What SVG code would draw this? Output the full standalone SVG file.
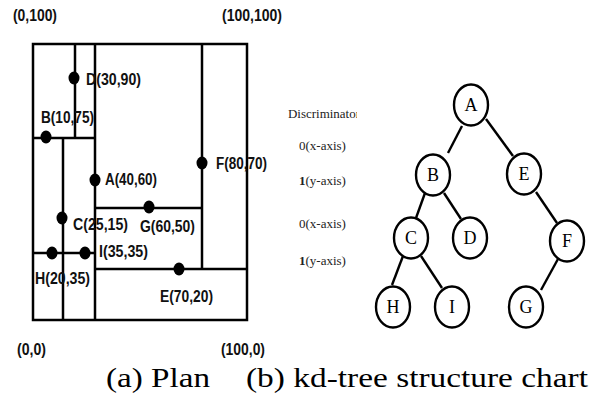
<svg xmlns="http://www.w3.org/2000/svg" width="590" height="396" viewBox="0 0 590 396">
<style>
.pl{stroke:#000;stroke-width:2.5;fill:none}
.dot{fill:#000}
.lab{font-family:"Liberation Sans Narrow","Liberation Sans",Arial,sans-serif;font-weight:bold;font-size:16px;fill:#111}
.disc{font-family:"Liberation Serif","Times New Roman",serif;font-size:13px;fill:#222}
.cap{font-family:"Liberation Serif","Times New Roman",serif;font-size:27px;fill:#000}
.node ellipse{fill:#fff;stroke:#000;stroke-width:2.4}
.node text{font-family:"Liberation Serif","Times New Roman",serif;font-size:18px;text-anchor:middle;fill:#000}
.edge{stroke:#000;stroke-width:2.4;fill:none}
</style>
<defs>
<clipPath id="dclip"><rect x="280" y="95" width="77" height="30"/></clipPath>
</defs>
<rect width="590" height="396" fill="#fff"/>
<g id="plan">
<rect class="pl" x="33" y="44" width="214" height="276"/>
<line class="pl" x1="95" y1="44" x2="95" y2="320"/>
<line class="pl" x1="75" y1="44" x2="75" y2="138"/>
<line class="pl" x1="33" y1="138" x2="95" y2="138"/>
<line class="pl" x1="63" y1="138" x2="63" y2="320"/>
<line class="pl" x1="33" y1="253" x2="95" y2="253"/>
<line class="pl" x1="202" y1="44" x2="202" y2="269"/>
<line class="pl" x1="95" y1="208" x2="202" y2="208"/>
<line class="pl" x1="95" y1="269" x2="247" y2="269"/>
<ellipse class="dot" cx="74" cy="78" rx="5.5" ry="6.5"/>
<ellipse class="dot" cx="46" cy="137" rx="5.5" ry="6.5"/>
<ellipse class="dot" cx="95" cy="180" rx="5.5" ry="6.5"/>
<ellipse class="dot" cx="202" cy="163" rx="5.5" ry="6.5"/>
<ellipse class="dot" cx="62" cy="218" rx="5.5" ry="6.5"/>
<ellipse class="dot" cx="149" cy="207" rx="5.5" ry="6.5"/>
<ellipse class="dot" cx="52" cy="253" rx="5.5" ry="6.5"/>
<ellipse class="dot" cx="85" cy="253" rx="5.5" ry="6.5"/>
<ellipse class="dot" cx="179" cy="269" rx="5.5" ry="6.5"/>
<text class="lab" x="13" y="21" textLength="44" lengthAdjust="spacingAndGlyphs">(0,100)</text>
<text class="lab" x="222" y="21" textLength="60" lengthAdjust="spacingAndGlyphs">(100,100)</text>
<text class="lab" x="86" y="85" textLength="55" lengthAdjust="spacingAndGlyphs">D(30,90)</text>
<text class="lab" x="41" y="123" textLength="53" lengthAdjust="spacingAndGlyphs">B(10,75)</text>
<text class="lab" x="216" y="169" textLength="51" lengthAdjust="spacingAndGlyphs">F(80,70)</text>
<text class="lab" x="105" y="185" textLength="52" lengthAdjust="spacingAndGlyphs">A(40,60)</text>
<text class="lab" x="73" y="230" textLength="55" lengthAdjust="spacingAndGlyphs">C(25,15)</text>
<text class="lab" x="140" y="232" textLength="55" lengthAdjust="spacingAndGlyphs">G(60,50)</text>
<text class="lab" x="99" y="257" textLength="49" lengthAdjust="spacingAndGlyphs">I(35,35)</text>
<text class="lab" x="35" y="284" textLength="55" lengthAdjust="spacingAndGlyphs">H(20,35)</text>
<text class="lab" x="160" y="302" textLength="53" lengthAdjust="spacingAndGlyphs">E(70,20)</text>
<text class="lab" x="17" y="355" textLength="29" lengthAdjust="spacingAndGlyphs">(0,0)</text>
<text class="lab" x="221" y="355" textLength="44" lengthAdjust="spacingAndGlyphs">(100,0)</text>
</g>
<g id="discriminator">
<text class="disc" x="288" y="118" textLength="72" lengthAdjust="spacingAndGlyphs" clip-path="url(#dclip)">Discriminator</text>
<text class="disc" x="299" y="150">0(x-axis)</text>
<text class="disc" x="299" y="185"><tspan font-weight="bold">1</tspan>(y-axis)</text>
<text class="disc" x="299" y="228">0(x-axis)</text>
<text class="disc" x="299" y="265"><tspan font-weight="bold">1</tspan>(y-axis)</text>
</g>
<g id="connectors">
<line class="edge" x1="462" y1="126" x2="448" y2="153"/>
<line class="edge" x1="486" y1="119" x2="513" y2="156"/>
<line class="edge" x1="425" y1="193" x2="416" y2="218"/>
<line class="edge" x1="444" y1="193" x2="461" y2="219"/>
<line class="edge" x1="536" y1="192" x2="557" y2="223"/>
<line class="edge" x1="403" y1="256" x2="392" y2="285"/>
<line class="edge" x1="421" y1="256" x2="442" y2="288"/>
<line class="edge" x1="558" y1="259" x2="541" y2="290"/>
</g>
<g id="node-A" class="node"><ellipse cx="471" cy="105" rx="17" ry="20.5"/><text x="471" y="111">A</text></g>
<g id="node-B" class="node"><ellipse cx="433" cy="175" rx="17" ry="20.5"/><text x="433" y="181">B</text></g>
<g id="node-E" class="node"><ellipse cx="524" cy="174" rx="17" ry="20.5"/><text x="524" y="180">E</text></g>
<g id="node-C" class="node"><ellipse cx="411" cy="238" rx="17" ry="20.5"/><text x="411" y="244">C</text></g>
<g id="node-D" class="node"><ellipse cx="470" cy="238" rx="17" ry="20.5"/><text x="470" y="244">D</text></g>
<g id="node-F" class="node"><ellipse cx="567" cy="241" rx="17" ry="20.5"/><text x="567" y="247">F</text></g>
<g id="node-H" class="node"><ellipse cx="393" cy="307" rx="17" ry="20.5"/><text x="393" y="313">H</text></g>
<g id="node-I" class="node"><ellipse cx="452" cy="307" rx="17" ry="20.5"/><text x="452" y="313">I</text></g>
<g id="node-G" class="node"><ellipse cx="526" cy="307" rx="17" ry="20.5"/><text x="526" y="313">G</text></g>
<g id="captions">
<text class="cap" x="106" y="387" textLength="104" lengthAdjust="spacingAndGlyphs">(a) Plan</text>
<text class="cap" x="246" y="387" textLength="342" lengthAdjust="spacingAndGlyphs">(b) kd-tree structure chart</text>
</g>
</svg>
